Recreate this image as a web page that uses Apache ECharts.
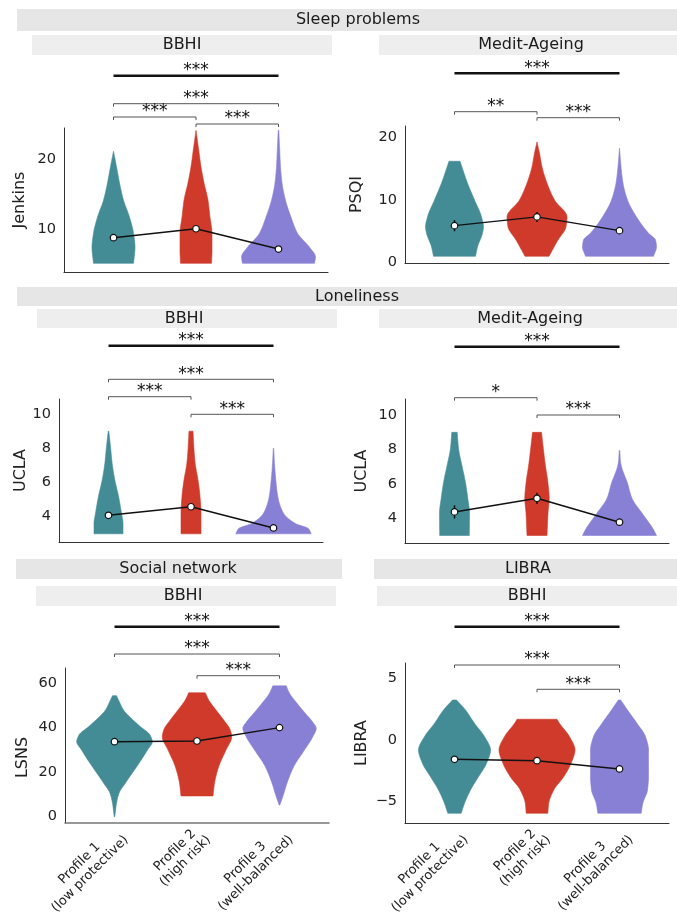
<!DOCTYPE html>
<html><head><meta charset="utf-8">
<script src="https://cdn.jsdelivr.net/npm/echarts@6/dist/echarts.min.js"></script>
<style>html,body{margin:0;padding:0;background:#fff}#c{width:677px;height:916px}</style>
</head><body><div id="c"></div>
<script>
// ---------- DATA ----------
const categories = ['Profile 1\n(low protective)', 'Profile 2\n(high risk)', 'Profile 3\n(well-balanced)'];
const sectionTitles = ['Sleep problems', 'Loneliness', 'Social network', 'LIBRA'];
const cohortTitles = ['BBHI', 'Medit-Ageing', 'BBHI', 'Medit-Ageing', 'BBHI', 'BBHI'];
const yNames = ['Jenkins', 'PSQI', 'UCLA', 'UCLA', 'LSNS', 'LIBRA'];
const yTicksA = [10, 20];
const yTicksB = [0, 10, 20];
const yTicksC = [4, 6, 8, 10];
const yTicksD = [4, 6, 8, 10];
const yTicksE = [0, 20, 40, 60];
const yTicksF = [-5, 0, 5];

// group means and error half-widths
const meansA = [8.76, 10.04, 7.14];  const errA = [0.3, 0.3, 0.2];
const meansB = [5.9, 7.3, 5.1];      const errB = [0.9, 0.8, 0.3];
const meansC = [4.08, 4.58, 3.34];   const errC = [0.1, 0.12, 0.05];
const meansD = [4.37, 5.16, 3.77];   const errD = [0.38, 0.33, 0.1];
const meansE = [33.6, 33.9, 39.9];   const errE = [0.6, 0.6, 0.5];
const meansF = [-1.57, -1.68, -2.35];const errF = [0.25, 0.25, 0.15];

// violin density profiles: [value, relative density (half width)]
const violinA = [
  [[5.1,20],[7.4,21.5],[9.4,20],[11.7,16],[14.1,10],[16.6,6],[18.9,3],[21.1,0]],
  [[5.1,15.5],[7,16],[9.4,16],[11.7,14],[14.1,12],[16.6,8],[18.9,5],[21.3,2.7],[24.1,0]],
  [[5.1,36],[6,37],[7.4,31],[9.4,19],[11.7,12.5],[14.1,7],[16.6,3.5],[18.9,2],[21.3,1.2],[24.1,0.3]]
];
const violinB = [
  [[1,21],[2.5,23],[4.7,28],[5.7,29],[7.3,27],[10,20],[12.7,13],[16.2,5.5]],
  [[1,12],[3.6,21],[5.7,29],[7.3,30],[10,17.5],[12.7,10],[15.3,5],[17.5,2.5],[19.3,0]],
  [[1,34],[2.5,37],[3.6,36],[4.7,29],[7.3,17],[10,8],[12.7,3.5],[15.3,1.5],[18.3,0]]
];
const violinC = [
  [[3,14.5],[3.6,14.5],[4.2,13],[5.2,10],[6.15,6.3],[7.1,3.7],[8.1,2],[9,0.3]],
  [[3,10],[4.2,10],[5.2,9],[6.15,7],[7.1,4.2],[8.1,2.8],[9,2]],
  [[3,37.7],[3.3,35],[3.6,22],[4.2,10],[5.17,4.3],[6.15,2.3],[7.1,1],[8,0.2]]
];
const violinD = [
  [[3,14.8],[4.3,15],[5.16,13.3],[6.13,10.8],[7.1,7.3],[8.07,4],[9,2.7]],
  [[3,10],[4.3,11],[5.16,12.2],[6.13,10.8],[7.1,8.3],[8.07,6.3],[9,4.5]],
  [[3,37],[3.34,34],[4.3,22.5],[5.16,12.5],[6.13,7.5],[6.5,5],[6.9,2.5],[7.3,1],[7.94,0.3]]
];
const violinE = [
  [[0,0.3],[6,2],[10.5,4.5],[15,10.8],[19.4,17.5],[25.4,26.7],[29.9,33],[33.6,37.8],[36.6,35.5],[40.3,26],[44.8,15],[47.8,9],[52.3,4],[54.2,2]],
  [[9.3,16],[15,17.5],[22.4,21.7],[29.9,29],[35.8,34.7],[38.8,33.3],[43.3,26.7],[47.8,19],[52.3,11.7],[55.5,8.3]],
  [[5.2,0.3],[9,3.3],[15,7.5],[22.4,14.2],[29.9,25],[35.8,33.3],[39.6,36.7],[42.5,33],[46.3,25.8],[50.8,17.5],[55.3,10],[58.6,6.7]]
];
const violinF = [
  [[-5.94,6.7],[-5.14,10],[-4.06,16],[-2.98,24],[-1.9,32],[-0.81,36],[0.27,30],[1.35,20],[2.43,11],[3.24,2]],
  [[-5.94,10.8],[-5.14,11.7],[-4.06,16.7],[-2.98,26.7],[-1.9,34],[-0.81,38],[0.27,32.5],[1.35,22.5],[1.68,20]],
  [[-5.94,21.7],[-5.14,23.3],[-4.06,28],[-2.98,29],[-1.9,29],[-0.81,29],[0.27,26],[1.35,17.5],[2.43,8],[3.24,1.2]]
];

// significance comparisons: [from group, to group, label, kind]
const bracketsA = [[0,2,'***','thick'],[0,2,'***','b'],[0,1,'***','b'],[1,2,'***','b']];
const bracketsB = [[0,2,'***','thick'],[0,1,'**','b'],[1,2,'***','b']];
const bracketsC = [[0,2,'***','thick'],[0,2,'***','b'],[0,1,'***','b'],[1,2,'***','b']];
const bracketsD = [[0,2,'***','thick'],[0,1,'*','b'],[1,2,'***','b']];
const bracketsE = [[0,2,'***','thick'],[0,2,'***','b'],[1,2,'***','b']];
const bracketsF = [[0,2,'***','thick'],[0,2,'***','b'],[1,2,'***','b']];

// ---------- LAYOUT / STYLE ----------
const colors = ['#438C96', '#CF3A2B', '#8880D5'];
const FONT = 'DejaVu Sans';
const XLAB_SIZE = 13;
const DENS_TO_X = 1 / 82.5;
const panels = [
  {grid:{left:64,top:128,width:264,height:144}, min:3.86, max:24.43, ticks:yTicksA, violins:violinA, means:meansA, err:errA, br:bracketsA, brOff:[52.3,24.3,11,4], gap:36, bottom:false},
  {grid:{left:405,top:126,width:264,height:137}, min:-0.08, max:21.84, ticks:yTicksB, violins:violinB, means:meansB, err:errB, br:bracketsB, brOff:[52.7,14.3,8.3], gap:40, bottom:false},
  {grid:{left:59,top:399,width:264,height:143}, min:2.52, max:10.88, ticks:yTicksC, violins:violinC, means:meansC, err:errC, br:bracketsC, brOff:[53.3,19.7,2.3,-15.3], gap:30, bottom:false},
  {grid:{left:405,top:399,width:264,height:144}, min:2.56, max:10.94, ticks:yTicksD, violins:violinD, means:meansD, err:errD, br:bracketsD, brOff:[52.3,1.3,-16], gap:35, bottom:false},
  {grid:{left:65,top:668,width:264,height:155}, min:-2.82, max:66.6, ticks:yTicksE, violins:violinE, means:meansE, err:errE, br:bracketsE, brOff:[41.3,14,-7.7], gap:34, bottom:true, namePad:[0,24,0,0], xLine:{color:'#777', width:1.6}},
  {grid:{left:405,top:663,width:264,height:160}, min:-6.73, max:6.24, ticks:yTicksF, violins:violinF, means:meansF, err:errF, br:bracketsF, brOff:[36.3,-2,-26.3], gap:35, bottom:true}
];
const headerBoxes = [
  {x:17,y:9,w:660,h:22,fill:'#E6E6E7',text:sectionTitles[0],tx:358,ty:20},
  {x:17,y:287,w:660,h:19,fill:'#E6E6E7',text:sectionTitles[1],tx:357,ty:296.5},
  {x:16,y:559,w:326,h:20,fill:'#E6E6E7',text:sectionTitles[2],tx:178,ty:569},
  {x:374,y:559,w:303,h:20,fill:'#E6E6E7',text:sectionTitles[3],tx:528,ty:569},
  {x:32,y:35,w:300,h:20,fill:'#EEEEEE',text:cohortTitles[0],tx:182,ty:45},
  {x:379,y:35,w:298,h:20,fill:'#EEEEEE',text:cohortTitles[1],tx:531,ty:45},
  {x:37,y:309,w:300,h:19,fill:'#EEEEEE',text:cohortTitles[2],tx:184,ty:318.5},
  {x:379,y:309,w:298,h:19,fill:'#EEEEEE',text:cohortTitles[3],tx:530,ty:318.5},
  {x:36,y:586,w:300,h:20,fill:'#EEEEEE',text:cohortTitles[4],tx:183,ty:596},
  {x:377,y:586,w:300,h:20,fill:'#EEEEEE',text:cohortTitles[5],tx:527,ty:596}
];

// monotone cubic (Fritsch–Carlson) resampling of a density profile, for drawing
function smoothProfile(pts) {
  const n = pts.length, xs = pts.map(p => p[0]), ys = pts.map(p => p[1]);
  const h = [], d = [], m = new Array(n);
  for (let i = 0; i < n - 1; i++) { h[i] = xs[i+1] - xs[i]; d[i] = (ys[i+1] - ys[i]) / h[i]; }
  m[0] = d[0]; m[n-1] = d[n-2];
  for (let i = 1; i < n - 1; i++) {
    if (d[i-1] * d[i] <= 0) m[i] = 0;
    else m[i] = 3 * (h[i-1] + h[i]) / ((2*h[i] + h[i-1]) / d[i-1] + (h[i] + 2*h[i-1]) / d[i]);
  }
  const out = [], steps = 12;
  for (let i = 0; i < n - 1; i++) {
    for (let s = 0; s < steps; s++) {
      const t = s / steps, t2 = t*t, t3 = t2*t;
      const h00 = 2*t3 - 3*t2 + 1, h10 = t3 - 2*t2 + t, h01 = -2*t3 + 3*t2, h11 = t3 - t2;
      const y = h00*ys[i] + h10*h[i]*m[i] + h01*ys[i+1] + h11*h[i]*m[i+1];
      out.push([xs[i] + t*h[i], Math.max(0, y)]);
    }
  }
  out.push(pts[n-1]);
  return out;
}

// two-line category labels, lines centred within a right-anchored block
const measureCtx = document.createElement('canvas').getContext('2d');
measureCtx.font = XLAB_SIZE + 'px "' + FONT + '"';
const labelRich = {};
categories.forEach((c, i) => {
  const [l1, l2] = c.split('\n');
  const w1 = measureCtx.measureText(l1).width, w2 = measureCtx.measureText(l2).width;
  const base = {fontSize:XLAB_SIZE, fontFamily:FONT, color:'#222', lineHeight:15};
  labelRich['a' + i] = Object.assign({padding:[0, Math.max(0, (w2 - w1) / 2), 0, 0]}, base);
  labelRich['b' + i] = Object.assign({padding:[0, Math.max(0, (w1 - w2) / 2), 0, 0]}, base);
});
function catLabel(v) {
  const i = Math.round(v);
  const [l1, l2] = categories[i].split('\n');
  return '{a' + i + '|' + l1 + '}\n{b' + i + '|' + l2 + '}';
}

const grids = [], xAxes = [], yAxes = [], series = [];
panels.forEach((P, p) => {
  grids.push(Object.assign({containLabel:false, outerBoundsMode:'none'}, P.grid));
  xAxes.push({
    type:'value', gridIndex:p, min:-0.6, max:2.6,
    axisLine:{show:true, onZero:false, lineStyle:P.xLine || {color:'#333', width:1}},
    axisTick:{show:false}, splitLine:{show:false},
    axisLabel: P.bottom ? {show:true, customValues:[0,1,2], formatter:catLabel, rich:labelRich,
      rotate:45, align:'right', verticalAlign:'middle', fontSize:XLAB_SIZE, fontFamily:FONT, color:'#222',
      margin:3, padding:[18.4,0,0,0], lineHeight:15} : {show:false}
  });
  yAxes.push({
    type:'value', gridIndex:p, min:P.min, max:P.max,
    axisLine:{show:true, onZero:false, lineStyle:{color:'#333', width:1}},
    axisTick:{show:false}, splitLine:{show:false},
    axisLabel:{customValues:P.ticks, fontSize:14.5, fontFamily:FONT, color:'#222', margin:8,
      formatter:v => (v < 0 ? '\u2212' + Math.abs(v) : String(v))},
    name:yNames[p], nameLocation:'middle', nameGap:P.gap,
    nameTextStyle:Object.assign({fontSize:16, fontFamily:FONT, color:'#222'}, P.namePad ? {padding:P.namePad} : {})
  });
  // violins
  series.push({
    type:'custom', xAxisIndex:p, yAxisIndex:p, silent:true, z:2,
    data:[[0],[1],[2]],
    renderItem:(params, api) => {
      const ci = api.value(0);
      const prof = smoothProfile(P.violins[ci]);
      const left = prof.map(([v,w]) => api.coord([ci - w*DENS_TO_X, v]));
      const right = prof.slice().reverse().map(([v,w]) => api.coord([ci + w*DENS_TO_X, v]));
      return {type:'polygon', shape:{points:left.concat(right)},
        style:{fill:colors[ci], stroke:colors[ci], lineWidth:0.6}};
    }
  });
  // error bars
  series.push({
    type:'custom', xAxisIndex:p, yAxisIndex:p, silent:true, z:4,
    data:P.means.map((m,i) => [i, m, P.err[i]]),
    renderItem:(params, api) => {
      const x = api.value(0), m = api.value(1), e = api.value(2);
      const a = api.coord([x, m - e]), b = api.coord([x, m + e]);
      return {type:'line', shape:{x1:a[0],y1:a[1],x2:b[0],y2:b[1]}, style:{stroke:'#111', lineWidth:1.5}};
    }
  });
  // means
  series.push({
    type:'line', xAxisIndex:p, yAxisIndex:p, silent:true, z:5,
    data:P.means.map((m,i) => [i, m]),
    symbol:'circle', symbolSize:6.5, showSymbol:true,
    lineStyle:{color:'#111', width:1.5},
    itemStyle:{color:'#fff', borderColor:'#111', borderWidth:1.2}
  });
  // significance brackets
  series.push({
    type:'custom', xAxisIndex:p, yAxisIndex:p, silent:true, z:6, clip:false,
    data:P.br.map(b => [b[0], b[1]]),
    encode:{x:[0,1]},
    renderItem:(params, api) => {
      const i = params.dataIndex, br = P.br[i];
      const a = api.coord([br[0], P.min]), b = api.coord([br[1], P.min]);
      const y = params.coordSys.y - P.brOff[i];
      const children = [];
      if (br[3] === 'thick') {
        children.push({type:'line', shape:{x1:a[0],y1:y,x2:b[0],y2:y}, style:{stroke:'#111', lineWidth:2.4}});
      } else {
        children.push({type:'polyline', shape:{points:[[a[0],y+3],[a[0],y],[b[0],y],[b[0],y+3]]},
          style:{stroke:'#555', lineWidth:1, fill:null}});
      }
      children.push({type:'text', style:{text:br[2], x:(a[0]+b[0])/2, y:y+3.5,
        align:'center', verticalAlign:'bottom', textAlign:'center', textVerticalAlign:'bottom',
        fontSize:17, fontFamily:FONT, fill:'#111'}});
      return {type:'group', children};
    }
  });
});

const graphic = [];
headerBoxes.forEach(h => {
  graphic.push({type:'rect', silent:true, z:0, shape:{x:h.x, y:h.y, width:h.w, height:h.h}, style:{fill:h.fill}});
});
headerBoxes.forEach(h => {
  graphic.push({type:'text', silent:true, z:1, x:h.tx, y:h.ty,
    style:{text:h.text, fontSize:16, fontFamily:FONT, fill:'#1a1a1a',
      align:'center', verticalAlign:'middle', textAlign:'center', textVerticalAlign:'middle'}});
});

const chart = echarts.init(document.getElementById('c'), null, {renderer:'canvas', width:677, height:916});
chart.setOption({
  animation:false,
  backgroundColor:'#fff',
  grid:grids, xAxis:xAxes, yAxis:yAxes, series, graphic
});
</script></body></html>
